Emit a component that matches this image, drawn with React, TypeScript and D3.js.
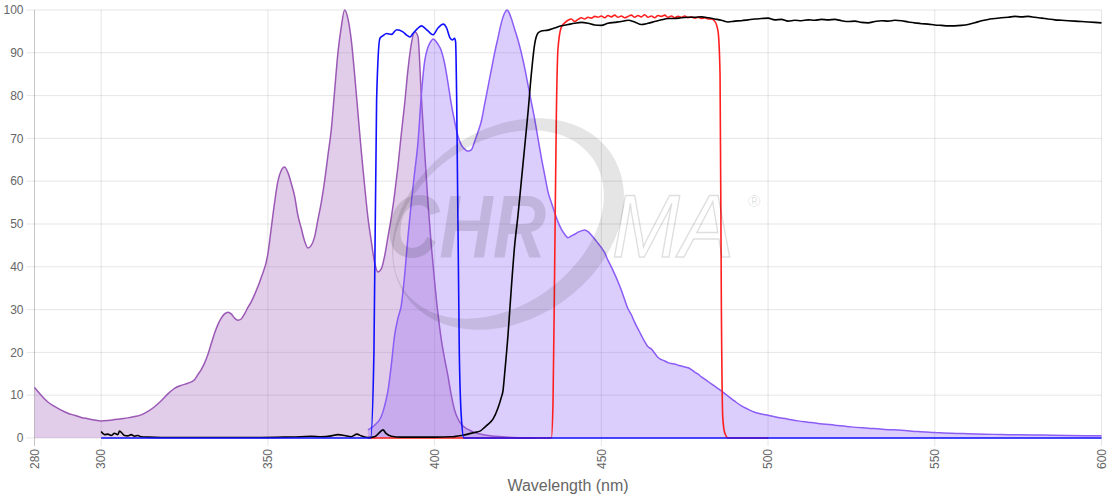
import React, { useEffect, useRef } from 'react';
import * as d3 from 'd3';

type Pt = [number, number];

// x ticks / y ticks
const xTicks = [280, 300, 350, 400, 450, 500, 550, 600];
const yTicks = [0, 10, 20, 30, 40, 50, 60, 70, 80, 90, 100];

// dye excitation (orchid)
const excitation: Pt[] = [
  [280, 11.8], [282, 10], [284, 8.4], [286, 7.4], [288, 6.5], [290, 5.8], [292, 5.3], [294, 4.8],
  [296, 4.5], [298, 4.2], [300, 4.0], [302, 4.1], [304, 4.3], [306, 4.5], [308, 4.7], [310, 5.0],
  [312, 5.4], [314, 6.2], [316, 7.3], [318, 8.7], [320, 10.3], [322, 11.6], [324, 12.3], [326, 12.8],
  [328, 13.6], [329, 14.8], [330, 16], [331, 17.5], [332, 19.5], [333, 22], [334, 24.5], [335, 26.5],
  [336, 28], [337, 29], [338, 29.4], [339, 29], [340, 28], [341, 27.5], [342, 27.8], [343, 29],
  [344, 30.5], [345, 31.8], [346, 33.5], [348, 37.5], [350, 43], [351, 49], [352, 55], [353, 60],
  [354, 62.5], [355, 63.3], [356, 62], [357, 59.5], [358, 56.5], [359, 52], [360, 49], [361, 46],
  [362, 44.4], [363, 45], [364, 47], [365, 51], [366, 55], [367, 60], [368, 66], [369, 72],
  [370, 81], [371, 90], [372, 96], [373, 100], [374, 98], [375, 93], [376, 85], [377, 76],
  [378, 67], [379, 59], [380, 51.5], [381, 46], [382, 41], [383, 38.8], [384, 39.5], [385, 42.5],
  [386, 47], [387, 51.5], [388, 57], [389, 63.5], [390, 71], [391, 78], [392, 86], [393, 92],
  [394, 94.9], [395, 93.8], [396, 80], [397, 67], [398, 55], [399, 45], [400, 36.5], [401, 29],
  [402, 23], [403, 18.5], [404, 14.5], [405, 10], [406, 6.5], [407, 4.5], [408, 3.2], [410, 2],
  [412, 1.3], [415, 0.7], [418, 0.4], [422, 0.2], [430, 0],
];

// dye emission (violet)
const emission: Pt[] = [
  [380, 1.9], [382, 3], [384, 5], [385, 7.5], [386, 11], [387, 17], [388, 24], [389, 28],
  [390, 31], [391, 38], [392, 47], [393, 55], [394, 62], [395, 69], [396, 80], [397, 88],
  [398, 91.3], [399, 92.8], [399.5, 93.2], [400, 93], [401, 92], [402, 90.5], [403, 87.5], [404, 83],
  [405, 78], [406, 74], [407, 70.5], [408, 68.5], [409, 67.5], [410, 67], [411, 67.3], [412, 69.3],
  [413, 71.5], [414, 74], [415, 78], [416, 82], [417, 86], [418, 90], [419, 93.5], [420, 97],
  [421, 99.3], [421.7, 100], [422, 99.8], [423, 98], [424, 95.5], [425, 93], [426, 90], [427, 86.5],
  [428, 82.5], [429, 78.5], [430, 74.5], [431, 70], [432, 65.5], [433, 61.5], [434, 57.5], [435, 55],
  [436, 52.7], [437, 50.5], [438, 48.8], [439, 47.6], [440, 46.8], [441, 47.2], [442, 47.6], [443, 48.1],
  [444, 48.4], [445, 48.6], [446, 48.2], [447, 47.4], [448, 46.5], [449, 45.5], [450, 44.5], [451, 43.3],
  [452, 41.5], [453, 40], [454, 38.3], [455, 36.5], [456, 34.5], [457, 32.3], [458, 30.2], [459, 28.8],
  [460, 27], [461, 25.5], [462, 24], [463, 22.5], [464, 21.3], [465, 20.8], [466, 19.8], [467, 18.8],
  [468, 18.3], [469, 18], [470, 17.6], [471, 17.4], [472, 17.3], [473, 17], [474, 16.8], [475, 16.6],
  [476, 16.4], [477, 16], [478, 15.4], [479, 14.9], [480, 14.3], [482, 13.2], [484, 12.1], [486, 11],
  [488, 9.8], [490, 8.6], [492, 7.5], [494, 6.7], [496, 6.0], [498, 5.6], [500, 5.3], [503, 4.8],
  [506, 4.4], [509, 4.0], [512, 3.7], [515, 3.4], [520, 3.0], [525, 2.6], [530, 2.3], [535, 2.0],
  [540, 1.8], [545, 1.5], [550, 1.3], [555, 1.1], [560, 1.0], [565, 0.9], [570, 0.8], [575, 0.75],
  [580, 0.7], [585, 0.65], [590, 0.6], [595, 0.55], [600, 0.5],
];

// excitation filter (blue)
const exFilter: Pt[] = [
  [300, 0], [380.8, 0], [381.8, 20], [382.6, 79], [383.6, 93.4], [384.5, 94], [385.6, 94.5], [387.1, 94.3],
  [388.6, 95.4], [390.5, 94.9], [391.5, 94.2], [392.6, 93.7], [393.5, 94.5], [394.8, 95.6], [396.1, 96.3],
  [397, 95.8], [398, 95.1], [399.5, 94.2], [401, 95.8], [402.6, 96.7], [403.6, 95.8], [404.6, 93.5],
  [405.4, 93], [406, 93.4], [406.3, 92.5], [406.6, 80], [407.4, 20], [408, 5], [408.8, 0], [600, 0],
];

// dichroic (black)
const dichroic: Pt[] = [
  [300, 1.5], [301, 0.8], [302, 0.9], [303, 0.6], [304, 1.1], [305, 0.8], [305.5, 1.6], [306.5, 0.9],
  [307, 0.6], [308, 0.5], [309, 0.8], [310, 0.4], [311, 0.6], [312, 0.3], [314, 0.2], [318, 0.1],
  [330, 0.1], [345, 0.1], [355, 0.2], [360, 0.3], [363, 0.4], [366, 0.3], [369, 0.5], [371, 0.8],
  [373, 0.6], [375, 0.3], [376.7, 0.9], [378, 0.5], [380, 0.1], [382, 0.3], [383.5, 1.3], [384.5, 1.9],
  [385.5, 1.0], [387, 0.4], [390, 0.2], [400, 0.2], [405, 0.3], [408, 0.6], [410, 0.9], [412, 1.3],
  [413.6, 1.6], [415, 2.5], [416, 3.2], [417.5, 4.4], [419, 7], [420, 9.5], [420.5, 11], [421, 15],
  [422, 24], [423, 35], [424, 45], [425, 52], [426, 60], [427, 68], [428, 76], [429, 85],
  [430, 92], [431, 94.6], [432, 95.1], [434, 95.3], [436, 95.8], [438, 96.3], [440, 96.6], [442, 96.9],
  [444, 97.1], [446, 96.9], [448, 96.5], [450, 96.4], [452, 96.9], [454, 97.1], [456, 97.3], [458, 97.6],
  [460, 97.2], [462, 96.6], [464, 96.9], [466, 97.3], [468, 97.7], [470, 98.0], [472, 98.0], [474, 98.2],
  [476, 98.3], [478, 98.3], [480, 98.4], [482, 98.2], [484, 97.9], [486, 97.6], [488, 97.2], [490, 97.4],
  [492, 97.5], [494, 97.7], [496, 97.9], [498, 98.0], [500, 98.1], [502, 97.7], [504, 97.8], [506, 97.4],
  [508, 97.6], [510, 97.5], [512, 97.7], [514, 97.6], [516, 97.8], [518, 97.7], [520, 97.8], [522, 97.5],
  [524, 97.3], [526, 97.4], [528, 97.1], [530, 97.0], [532, 97.3], [534, 97.5], [536, 97.4], [538, 97.6],
  [540, 97.5], [542, 97.2], [544, 97.0], [546, 96.8], [548, 96.7], [550, 96.5], [552, 96.4], [554, 96.3],
  [556, 96.3], [558, 96.4], [560, 96.6], [562, 97.0], [564, 97.5], [566, 97.8], [568, 98.0], [570, 98.2],
  [572, 98.3], [574, 98.5], [576, 98.4], [578, 98.5], [580, 98.3], [582, 98.1], [584, 97.9], [586, 97.7],
  [588, 97.6], [590, 97.5], [592, 97.4], [594, 97.3], [596, 97.2], [598, 97.1], [600, 97.0],
];

// emission filter (red)
const emFilter: Pt[] = [
  [380, 0], [435, 0], [435.5, 8], [436, 40], [436.5, 75], [437, 91], [438, 96], [439, 97],
  [440, 97.6], [441, 97.9], [442, 97.3], [443, 97.8], [444, 98.2], [445, 97.9], [446, 98.3], [447, 98.1],
  [448, 98.5], [449, 98.3], [450, 98.6], [451, 98.2], [452, 98.7], [453, 98.4], [454, 98.8], [455, 98.3],
  [456, 98.6], [457, 98.2], [458, 98.5], [459, 98.8], [460, 98.3], [461, 98.7], [462, 98.4], [463, 98.9],
  [464, 98.3], [465, 98.6], [466, 98.2], [467, 98.7], [468, 98.5], [469, 98.8], [470, 98.3], [471, 98.6],
  [472, 98.2], [473, 98.5], [474, 98.3], [475, 98.6], [476, 98.2], [477, 98.4], [478, 98.1], [479, 98.3],
  [480, 98.0], [481, 98.2], [482, 97.9], [483, 97.9], [484, 97.4], [485, 95], [485.6, 85], [486, 30],
  [486.4, 5], [487, 1.2], [488, 0], [500, 0],
];

const App: React.FC = () => {
  const svgRef = useRef<SVGSVGElement | null>(null);

  useEffect(() => {
    const width = 1120;
    const height = 500;
    const left = 34.5;
    const right = 1101.5;
    const top = 10;
    const bottom = 438;

    const svg = d3.select(svgRef.current).attr('width', width).attr('height', height);
    svg.selectAll('*').remove();

    const x = d3.scaleLinear().domain([280, 600]).range([left, right]);
    const y = d3.scaleLinear().domain([0, 100]).range([bottom, top]);
    const font = '"Liberation Sans", Arial, Helvetica, sans-serif';

    // grid
    const grid = svg.append('g');
    grid.selectAll('line.h')
      .data(yTicks)
      .enter()
      .append('line')
      .attr('x1', left - 8)
      .attr('x2', right)
      .attr('y1', (d) => y(d))
      .attr('y2', (d) => y(d))
      .attr('stroke', 'rgba(0,0,0,0.1)');
    grid.selectAll('line.v')
      .data(xTicks)
      .enter()
      .append('line')
      .attr('x1', (d) => x(d))
      .attr('x2', (d) => x(d))
      .attr('y1', top)
      .attr('y2', bottom + 8)
      .attr('stroke', (d) => (d === 280 ? 'rgba(0,0,0,0.22)' : 'rgba(0,0,0,0.1)'));

    // tick labels
    svg.append('g')
      .selectAll('text')
      .data(yTicks)
      .enter()
      .append('text')
      .attr('x', left - 11)
      .attr('y', (d) => y(d))
      .attr('dy', '0.35em')
      .attr('text-anchor', 'end')
      .style('font', `12px ${font}`)
      .attr('fill', '#666')
      .text((d) => d);

    svg.append('g')
      .selectAll('text')
      .data(xTicks)
      .enter()
      .append('text')
      .attr('transform', (d) => `translate(${x(d)},${bottom + 11}) rotate(-90)`)
      .attr('dy', '0.35em')
      .attr('text-anchor', 'end')
      .style('font', `12px ${font}`)
      .attr('fill', '#666')
      .text((d) => d);

    svg.append('text')
      .attr('x', (left + right) / 2)
      .attr('y', 491)
      .attr('text-anchor', 'middle')
      .style('font', `16px ${font}`)
      .attr('fill', '#666')
      .text('Wavelength (nm)');

    const line = d3.line<Pt>()
      .x((d) => x(d[0]))
      .y((d) => y(d[1]))
      .curve(d3.curveMonotoneX);
    const area = d3.area<Pt>()
      .x((d) => x(d[0]))
      .y0(y(0))
      .y1((d) => y(d[1]))
      .curve(d3.curveMonotoneX);

    const plot = svg.append('g');

    // dyes
    plot.append('path').datum(excitation).attr('d', area).attr('fill', 'rgba(155,89,182,0.3)');
    plot.append('path').datum(excitation).attr('d', line)
      .attr('fill', 'none').attr('stroke', '#9b59b6').attr('stroke-width', 1.5);
    plot.append('path').datum(emission).attr('d', area).attr('fill', 'rgba(139,92,246,0.3)');
    plot.append('path').datum(emission).attr('d', line)
      .attr('fill', 'none').attr('stroke', '#8b5cf6').attr('stroke-width', 1.5);

    // filters
    const filters: [Pt[], string][] = [
      [emFilter, '#ff1f1f'],
      [dichroic, '#000000'],
      [exFilter, '#1010ff'],
    ];
    filters.forEach(([data, color]) => {
      plot.append('path').datum(data).attr('d', line)
        .attr('fill', 'none').attr('stroke', color).attr('stroke-width', 1.6);
    });

    // watermark
    const wm = svg.append('g').attr('pointer-events', 'none');
    const ring = (cx: number, cy: number, rx: number, ry: number) =>
      `M${cx - rx},${cy} a${rx},${ry} 0 1,0 ${2 * rx},0 a${rx},${ry} 0 1,0 ${-2 * rx},0 Z`;
    wm.append('path')
      .attr('d', ring(508, 224, 125, 95) + ring(500, 219, 115, 82))
      .attr('transform', 'rotate(-35 508 224)')
      .attr('fill-rule', 'evenodd')
      .attr('fill', 'rgba(0,0,0,0.1)');
    wm.append('text')
      .attr('x', 386)
      .attr('y', 257)
      .attr('textLength', 160)
      .attr('lengthAdjust', 'spacingAndGlyphs')
      .style('font', `italic bold 89px ${font}`)
      .attr('fill', 'rgba(0,0,0,0.12)')
      .text('CHR');
    wm.append('text')
      .attr('x', 612)
      .attr('y', 257)
      .attr('textLength', 122)
      .attr('lengthAdjust', 'spacingAndGlyphs')
      .style('font', `italic 89px ${font}`)
      .attr('fill', 'none')
      .attr('stroke', 'rgba(0,0,0,0.13)')
      .attr('stroke-width', 1.5)
      .text('MA');
    wm.append('text')
      .attr('x', 748)
      .attr('y', 207)
      .attr('text-anchor', 'start')
      .style('font', `17px ${font}`)
      .attr('fill', 'rgba(0,0,0,0.12)')
      .text('®');
  }, []);

  return <svg ref={svgRef} style={{ position: 'absolute', left: 0, top: 0 }}></svg>;
};

export default App;
